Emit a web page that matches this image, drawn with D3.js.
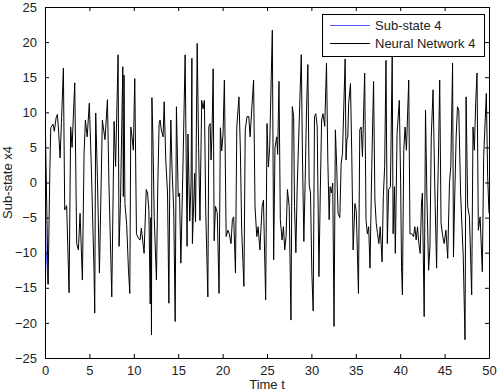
<!DOCTYPE html>
<html>
<head>
<meta charset="utf-8">
<script src="https://cdn.jsdelivr.net/npm/d3@7/dist/d3.min.js"></script>
<style>
  html, body { margin: 0; padding: 0; background: #fff; }
  svg text { font-family: "Liberation Sans", Arial, Helvetica, sans-serif; }
</style>
</head>
<body>
<svg id="chart" width="497" height="391"></svg>
<script>
// ---- data ----
const timeT = [0.00,0.35,0.55,0.65,0.90,1.05,1.25,1.40,1.55,1.70,1.85,2.07,2.22,2.44,2.71,2.89,3.05,3.35,3.57,3.76,3.95,4.21,4.40,4.55,4.75,4.99,5.20,5.52,5.60,5.71,5.90,6.13,6.46,6.76,7.03,7.20,7.52,7.78,7.95,8.23,8.34,8.50,8.76,8.82,8.90,9.00,9.20,9.40,9.55,9.66,9.80,9.95,10.11,10.30,10.50,10.70,10.85,11.16,11.40,11.55,11.70,11.85,11.92,11.99,12.04,12.15,12.30,12.55,12.70,12.85,12.96,13.10,13.30,13.42,13.60,13.80,13.95,14.05,14.17,14.30,14.50,14.66,14.80,15.00,15.15,15.30,15.55,15.78,16.00,16.10,16.30,16.45,16.54,16.60,16.85,16.95,17.14,17.30,17.45,17.65,17.80,17.95,18.10,18.34,18.45,18.60,18.70,18.80,18.94,19.05,19.20,19.40,19.60,19.75,19.90,20.05,20.20,20.40,20.60,20.75,20.95,21.10,21.25,21.45,21.60,21.84,22.00,22.15,22.40,22.55,22.75,22.95,23.10,23.30,23.49,23.65,23.85,24.00,24.20,24.45,24.60,24.85,25.00,25.15,25.30,25.60,25.75,25.90,26.10,26.20,26.35,26.50,26.70,26.85,27.00,27.15,27.30,27.50,27.70,27.85,28.00,28.10,28.25,28.40,28.86,29.00,29.15,29.30,29.45,29.60,29.75,29.90,30.05,30.20,30.35,30.50,30.65,30.85,31.00,31.15,31.30,31.50,31.70,31.85,32.00,32.10,32.25,32.40,32.55,32.70,32.85,33.00,33.20,33.35,33.50,33.80,33.90,34.00,34.10,34.20,34.40,34.55,34.70,34.90,35.05,35.30,35.45,35.60,35.75,36.00,36.15,36.30,36.45,36.60,36.80,37.00,37.15,37.30,37.45,37.60,37.75,37.96,38.10,38.25,38.40,38.55,38.70,38.90,39.10,39.20,39.35,39.45,39.65,39.90,40.05,40.15,40.25,40.40,40.55,40.70,40.96,41.10,41.30,41.50,41.65,41.80,41.95,42.10,42.25,42.40,42.50,42.70,42.85,43.00,43.20,43.35,43.50,43.70,43.90,44.10,44.20,44.30,44.45,44.60,44.80,44.95,45.15,45.35,45.55,45.70,45.90,46.00,46.15,46.30,46.45,46.60,46.80,47.10,47.30,47.42,47.60,47.80,48.05,48.20,48.35,48.50,48.65,48.80,49.00,49.25,49.40,49.70,49.85,50.00];

const neuralNetwork4 = [10.9,-14.5,2.0,7.8,8.3,7.3,9.2,9.7,7.0,3.5,8.5,16.3,-3.9,-3.3,-15.7,7.9,5.0,14.2,-8.7,-9.6,-4.4,-13.9,4.1,8.9,6.5,11.3,3.0,-12.5,-18.6,9.9,0.8,-12.9,8.9,6.1,11.8,-0.1,-16.3,8.7,2.3,18.2,-9.1,-3.0,16.5,-2.0,15.3,-3.0,-6.0,-12.5,-15.8,7.9,6.5,4.6,14.8,-7.3,-7.9,-8.2,-6.5,-10.1,-1.0,-1.5,-4.0,-17.3,-5.0,-21.7,12.1,6.5,-5.0,-13.9,-0.5,8.4,8.9,7.5,6.5,11.5,3.2,-1.5,-17.2,-0.2,8.9,2.2,-4.0,-19.8,10.8,-2.0,-1.5,-11.5,3.2,18.2,-9.1,6.9,-5.5,0.0,17.7,-8.7,1.3,-5.6,19.8,5.0,-5.4,11.7,10.5,11.7,-4.0,-16.3,8.0,8.4,3.2,6.5,16.2,-8.3,-3.4,-4.3,-15.8,7.8,4.5,6.9,14.6,-7.7,-6.8,-7.3,-8.7,-5.3,-4.9,-12.9,7.9,12.2,4.6,-6.8,-14.8,7.5,9.4,9.4,6.5,10.8,14.6,-3.4,-7.7,-6.3,-9.6,-3.4,-2.5,-16.7,8.4,2.2,5.0,21.7,-11.0,5.0,6.5,4.0,14.4,-5.3,-8.2,-6.3,-9.6,-7.7,-1.0,-3.4,-19.6,10.8,9.4,-3.4,-10.0,-0.6,18.2,3.2,-8.4,0.3,10.3,16.8,-0.3,-1.5,-12.9,-18.3,9.4,9.8,8.0,-13.4,-1.5,8.9,9.8,8.0,17.0,3.2,-5.3,-0.6,-1.5,-0.1,-20.5,7.5,2.3,-4.4,-5.0,2.7,4.1,17.6,3.2,6.1,6.5,11.3,14.1,3.7,-9.6,-3.0,-4.0,-15.8,7.5,7.9,3.7,15.6,-5.3,-7.3,-6.3,-12.2,2.3,14.4,-2.5,-5.8,-7.3,-8.7,-6.3,-11.3,-2.0,2.3,17.4,-8.7,-1.0,-0.6,18.0,-7.3,-0.6,-10.1,7.0,11.7,-0.1,-12.0,-16.0,4.6,7.9,4.6,14.6,-7.3,-7.3,-7.7,-6.3,-8.2,-6.3,-8.7,-10.1,-2.9,-1.5,-19.1,10.3,-1.5,-12.5,-9.1,6.5,13.2,-1.0,-12.2,-3.0,3.2,14.6,-5.8,-7.7,-8.7,-6.8,-10.8,0.0,2.3,17.0,-10.6,-1.5,6.5,10.8,10.3,-1.5,-10.6,-22.4,12.2,-3.4,-4.9,-16.0,7.9,4.6,11.3,15.6,-6.8,-4.9,-12.7,3.7,12.7,0.8,-4.4];

// Sub-state 4: only its start differs visibly; after that it lies hidden under the network output
const subStateT = [0.00, 0.12, 0.35];
const subState4 = [2.5, -9.6, -14.5];

const xTicks = [0,5,10,15,20,25,30,35,40,45,50];
const yTicks = [-25,-20,-15,-10,-5,0,5,10,15,20,25];
const legendLabels = ["Sub-state 4", "Neural Network 4"];
const seriesColors = ["#5a5aff", "#000000"];

// ---- layout ----
const svg = d3.select("#chart");
const L = 45, R = 489, T = 7, B = 358;
const x = d3.scaleLinear().domain([0, 50]).range([L, R]);
const y = d3.scaleLinear().domain([-25, 25]).range([B, T]);

const nnData = timeT.map((t, i) => [t, neuralNetwork4[i]]);
const subData = subStateT.map((t, i) => [t, subState4[i]]);

svg.append("defs").append("clipPath").attr("id", "clip")
  .append("rect").attr("x", L).attr("y", T).attr("width", R - L).attr("height", B - T);

const line = d3.line().x(d => x(d[0])).y(d => y(d[1]));

const g = svg.append("g").attr("clip-path", "url(#clip)");
g.append("path").datum(subData).attr("d", line)
  .attr("fill", "none").attr("stroke", seriesColors[0]).attr("stroke-width", 1);
g.append("path").datum(nnData).attr("d", line)
  .attr("fill", "none").attr("stroke", seriesColors[1]).attr("stroke-width", 1);

// ---- axes (MATLAB style: box, inward ticks on all sides) ----
const fontSize = 13;
const xAxisB = d3.axisBottom(x).tickValues(xTicks).tickSizeInner(-4).tickSizeOuter(0).tickPadding(8);
const xAxisT = d3.axisTop(x).tickValues(xTicks).tickSizeInner(-4).tickSizeOuter(0).tickFormat("");
const yAxisL = d3.axisLeft(y).tickValues(yTicks).tickSizeInner(-4).tickSizeOuter(0).tickPadding(8);
const yAxisR = d3.axisRight(y).tickValues(yTicks).tickSizeInner(-4).tickSizeOuter(0).tickFormat("");

function style(sel) {
  sel.selectAll("path").attr("stroke", "#000");
  sel.selectAll("line").attr("stroke", "#000");
  sel.selectAll("text").attr("fill", "#222").style("font-size", fontSize + "px")
    .style("font-family", "'Liberation Sans', Arial, sans-serif");
}
svg.append("g").attr("transform", `translate(0,${B})`).call(xAxisB).call(style);
svg.append("g").attr("transform", `translate(0,${T})`).call(xAxisT).call(style);
svg.append("g").attr("transform", `translate(${L},0)`).call(yAxisL).call(style);
svg.append("g").attr("transform", `translate(${R},0)`).call(yAxisR).call(style);

svg.selectAll(".domain").attr("fill", "none");

// axis titles
svg.append("text").attr("x", (L + R) / 2).attr("y", 389).attr("text-anchor", "middle")
  .attr("fill", "#222").style("font-size", fontSize + "px").text("Time t");
svg.append("text").attr("transform", `translate(12,${(T + B) / 2}) rotate(-90)`)
  .attr("text-anchor", "middle").attr("fill", "#222").style("font-size", fontSize + "px")
  .text("Sub-state x4");

// ---- legend ----
const lg = svg.append("g");
lg.append("rect").attr("x", 322.5).attr("y", 14.5).attr("width", 162).attr("height", 42)
  .attr("fill", "#fff").attr("stroke", "#000").attr("stroke-width", 1);
legendLabels.forEach((lab, i) => {
  const yy = 25.5 + i * 18;
  lg.append("line").attr("x1", 330).attr("x2", 370).attr("y1", yy).attr("y2", yy)
    .attr("stroke", seriesColors[i]).attr("stroke-width", 1);
  lg.append("text").attr("x", 375).attr("y", yy + 4.5).attr("fill", "#222")
    .style("font-size", fontSize + "px").text(lab);
});
</script>
</body>
</html>
